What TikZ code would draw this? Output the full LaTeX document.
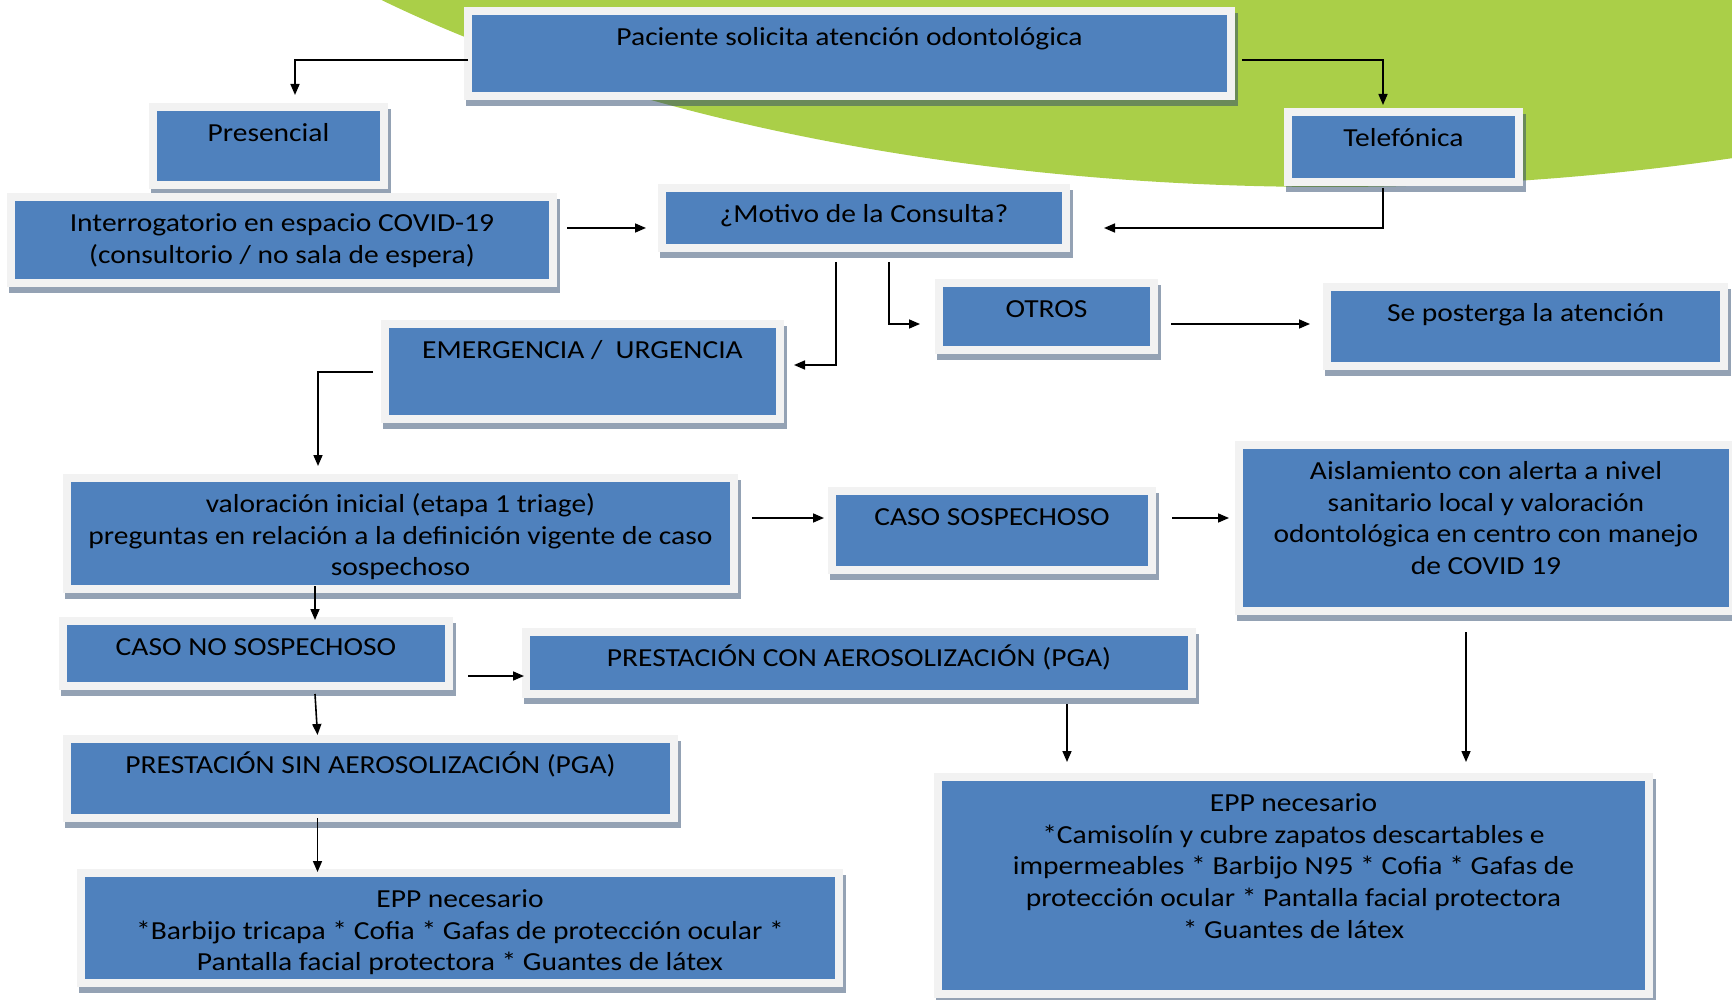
\documentclass[tikz,border=0pt]{standalone}
\usepackage{fontspec}
\setmainfont{Carlito}[FakeStretch=1.135]
\usetikzlibrary{arrows.meta,calc}
\definecolor{boxblue}{RGB}{79,129,189}
\definecolor{framec}{RGB}{242,242,242}
\definecolor{shadowc}{RGB}{43,71,107}
\definecolor{greenc}{RGB}{170,207,72}
\tikzset{
  bluebox/.style={fill=boxblue, inner sep=0pt, outer sep=0pt, text=black,
    font=\fontsize{26}{31.7}\selectfont},
  arr/.style={draw, line width=1.6pt, -{Triangle[length=11pt,width=9pt]}},
}
\newcommand\flowbox[6]{%
  \fill[shadowc,opacity=.5] (#2-6,#3-2) rectangle (#4+11,#5+14);
  \fill[framec] (#2-8,#3-8) rectangle (#4+8,#5+8);
  \node[bluebox,anchor=north west] (#1) at (#2,#3)
    {\parbox[c][\dimexpr#5pt-#3pt\relax][t]{\dimexpr#4pt-#2pt\relax}{\centering\rule{0pt}{30.5pt}#6}};
}
\begin{document}
\begin{tikzpicture}[x=1pt,y=-1pt]
\useasboundingbox (0,0) rectangle (1732,1000);
\clip (0,0) rectangle (1732,1000);
\fill[white] (0,0) rectangle (1732,1000);
\fill[greenc] (1330,-404.5) ellipse [x radius=1300, y radius=591.5];

\flowbox{b1}{472}{15}{1227}{92}{Paciente solicita atención odontológica}
\flowbox{b2}{157}{111}{380}{181}{Presencial}
\flowbox{b3}{15}{201}{549}{279}{Interrogatorio en espacio COVID-19\\(consultorio / no sala de espera)}
\flowbox{b4}{1292}{116}{1515}{178}{Telefónica}
\flowbox{b5}{666}{192}{1062}{244}{¿Motivo de la Consulta?}
\flowbox{b6}{943}{287}{1150}{346}{OTROS}
\flowbox{b7}{1331}{291}{1720}{362}{Se posterga la atención}
\flowbox{b8}{389}{328}{776}{415}{EMERGENCIA /~ URGENCIA}
\flowbox{b9}{71}{482}{730}{585}{valoración inicial (etapa 1 triage)\\preguntas en relación a la definición vigente de caso\\sospechoso}
\flowbox{b10}{836}{495}{1148}{566}{CASO SOSPECHOSO}
\flowbox{b11}{1243}{449}{1729}{607}{Aislamiento con alerta a nivel\\sanitario local y valoración\\odontológica en centro con manejo\\de COVID 19}
\flowbox{b12}{67}{625}{445}{682}{CASO NO SOSPECHOSO}
\flowbox{b13}{530}{636}{1188}{690}{PRESTACIÓN CON AEROSOLIZACIÓN (PGA)}
\flowbox{b14}{71}{743}{670}{814}{PRESTACIÓN SIN AEROSOLIZACIÓN (PGA)}
\flowbox{b15}{85}{877}{835}{979}{EPP necesario\\{}*Barbijo tricapa * Cofia * Gafas de protección ocular *\\Pantalla facial protectora * Guantes de látex}
\flowbox{b16}{942}{781}{1645}{990}{EPP necesario\\{}*Camisolín y cubre zapatos descartables e\\impermeables * Barbijo N95 * Cofia * Gafas de\\protección ocular * Pantalla facial protectora\\{}* Guantes de látex}

\draw[arr] ([xshift=-4pt,yshift=-6.5pt]b1.west) -| ([xshift=26.5pt,yshift=16pt]b2.north);
\draw[arr] ([xshift=15pt,yshift=-6.5pt]b1.east) -| ([xshift=-20.5pt,yshift=11pt]b4.north);
\draw[arr] ([xshift=-20.5pt,yshift=-10pt]b4.south) |- ([xshift=42pt,yshift=-10pt]b5.east);
\draw[arr] ([xshift=18pt,yshift=12pt]b3.east) -- ([xshift=-20pt,yshift=-10pt]b5.west);
\draw[arr] ([xshift=-28pt,yshift=-18pt]b5.south) |- ([xshift=18pt,yshift=6.5pt]b8.east);
\draw[arr] ([xshift=25pt,yshift=-18pt]b5.south) |- ([xshift=-23pt,yshift=-7.5pt]b6.west);
\draw[arr] ([xshift=21pt,yshift=-7.5pt]b6.east) -- ([xshift=-21pt,yshift=2.5pt]b7.west);
\draw[arr] ([xshift=-16pt,yshift=-0.5pt]b8.west) -| ([xshift=-82.5pt,yshift=16pt]b9.north);
\draw[arr] ([xshift=22pt,yshift=15.5pt]b9.east) -- ([xshift=-12pt,yshift=12.5pt]b10.west);
\draw[arr] ([xshift=24pt,yshift=12.5pt]b10.east) -- ([xshift=-14pt,yshift=10pt]b11.west);
\draw[arr] ([xshift=-85.5pt,yshift=-1pt]b9.south) -- ([xshift=59pt,yshift=5pt]b12.north);
\draw[arr] ([xshift=59pt,yshift=-12pt]b12.south) -- ([xshift=-53pt,yshift=8pt]b14.north);
\draw[arr] ([xshift=23pt,yshift=-22.5pt]b12.east) -- ([xshift=-6pt,yshift=-13pt]b13.west);
\draw[arr] ([xshift=208pt,yshift=-14pt]b13.south) -- ([xshift=-226.5pt,yshift=19pt]b16.north);
\draw[arr] ([xshift=-20pt,yshift=-25pt]b11.south) -- ([xshift=172.5pt,yshift=19pt]b16.north);
\draw[arr] ([xshift=-53pt,yshift=-4pt]b14.south) -- ([xshift=-142.5pt,yshift=5pt]b15.north);
\end{tikzpicture}
\end{document}
